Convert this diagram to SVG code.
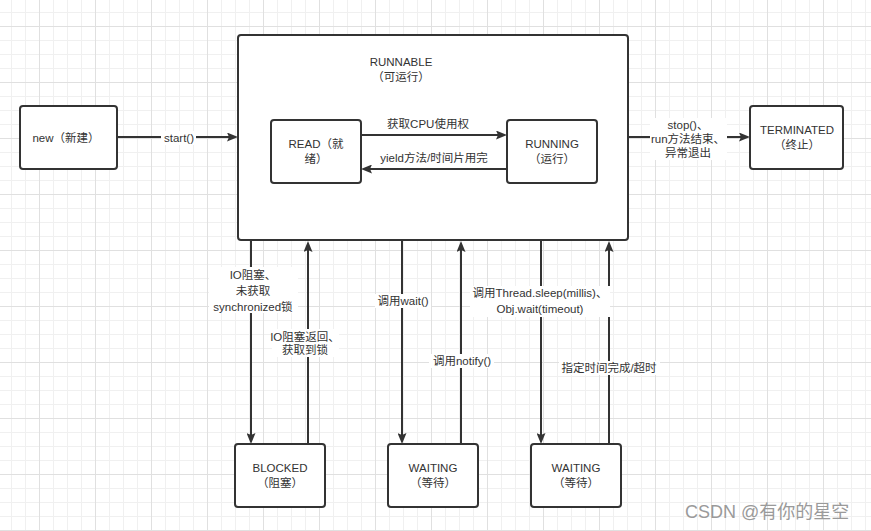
<svg xmlns="http://www.w3.org/2000/svg" width="871" height="531" viewBox="0 0 871 531">
<style>
.node rect{fill:#fff;stroke:#333;stroke-width:2}
text{font-family:"Liberation Sans","Noto Sans CJK SC",sans-serif;font-size:11.5px;fill:#333;text-anchor:middle}
.edge{stroke:#333;stroke-width:2;fill:none;marker-end:url(#arr)}
.lbg{fill:#fff}
.wm{font-size:18px;fill:#9a9a9a;text-anchor:start}
</style>
<defs>
<pattern id="grid" patternUnits="userSpaceOnUse" x="39" y="26" width="56" height="56">
<path d="M14.5,0V56M28.5,0V56M42.5,0V56M0,14.5H56M0,28.5H56M0,42.5H56" stroke="#f0f0f0" stroke-width="1" fill="none"/>
<path d="M0.5,0V56M0,0.5H56" stroke="#e0e0e0" stroke-width="1" fill="none"/>
</pattern>
<marker id="arr" markerUnits="userSpaceOnUse" markerWidth="12" markerHeight="9" refX="8" refY="4.5" orient="auto">
<path d="M0,0 L11,4.5 L0,9 L2,4.5 Z" fill="#333"/>
</marker>
</defs>
<rect width="871" height="531" fill="#fff"/>
<rect width="871" height="531" fill="url(#grid)"/>

<g id="runnable" class="node">
<rect x="238" y="35" width="390" height="205" rx="3"/>
<text x="401" y="66">RUNNABLE</text>
<text x="401" y="81">（可运行）</text>
</g>

<g id="connectors">
<path class="edge" d="M117,137H235"/>
<path class="edge" d="M361,135H504"/>
<path class="edge" d="M507,169H364"/>
<path class="edge" d="M628,137H747"/>
<path class="edge" d="M251,241V441"/>
<path class="edge" d="M308,444V244"/>
<path class="edge" d="M402,241V441"/>
<path class="edge" d="M461,444V244"/>
<path class="edge" d="M541,241V441"/>
<path class="edge" d="M609,444V244"/>
</g>

<g id="labels">
<rect class="lbg" x="161" y="131" width="35" height="14"/>
<text x="179" y="142">start()</text>
<text x="428" y="128">获取CPU使用权</text>
<text x="434" y="162">yield方法/时间片用完</text>
<rect class="lbg" x="650" y="118" width="77" height="42"/>
<text x="688" y="129">stop()、</text>
<text x="688" y="143">run方法结束、</text>
<text x="688" y="157">异常退出</text>
<rect class="lbg" x="209" y="267" width="89" height="46"/>
<text x="253" y="279">IO阻塞、</text>
<text x="253" y="295">未获取</text>
<text x="253" y="311">synchronized锁</text>
<rect class="lbg" x="272" y="329" width="67" height="28"/>
<text x="305" y="341">IO阻塞返回、</text>
<text x="305" y="354">获取到锁</text>
<rect class="lbg" x="375" y="294" width="56" height="14"/>
<text x="403" y="305">调用wait()</text>
<rect class="lbg" x="429" y="354" width="65" height="14"/>
<text x="462" y="365">调用notify()</text>
<rect class="lbg" x="470" y="286" width="140" height="31"/>
<text x="540" y="297">调用Thread.sleep(millis)、</text>
<text x="540" y="313">Obj.wait(timeout)</text>
<rect class="lbg" x="559" y="361" width="101" height="14"/>
<text x="609" y="372">指定时间完成/超时</text>
</g>

<g id="new" class="node">
<rect x="20" y="106" width="97" height="63" rx="3"/>
<text x="66" y="142">new（新建）</text>
</g>
<g id="read" class="node">
<rect x="271" y="120" width="90" height="63" rx="3"/>
<text x="316" y="148">READ（就</text>
<text x="316" y="163">绪）</text>
</g>
<g id="running" class="node">
<rect x="507" y="120" width="90" height="63" rx="3"/>
<text x="552" y="148">RUNNING</text>
<text x="552" y="163">（运行）</text>
</g>
<g id="terminated" class="node">
<rect x="750" y="106" width="93" height="63" rx="3"/>
<text x="797" y="134">TERMINATED</text>
<text x="797" y="149">（终止）</text>
</g>
<g id="blocked" class="node">
<rect x="235" y="444" width="90" height="63" rx="3"/>
<text x="280" y="472">BLOCKED</text>
<text x="280" y="487">（阻塞）</text>
</g>
<g id="waiting1" class="node">
<rect x="388" y="444" width="90" height="63" rx="3"/>
<text x="433" y="472">WAITING</text>
<text x="433" y="487">（等待）</text>
</g>
<g id="waiting2" class="node">
<rect x="531" y="444" width="90" height="63" rx="3"/>
<text x="576" y="472">WAITING</text>
<text x="576" y="487">（等待）</text>
</g>
<text class="wm" x="685" y="518">CSDN @有你的星空</text>
</svg>
